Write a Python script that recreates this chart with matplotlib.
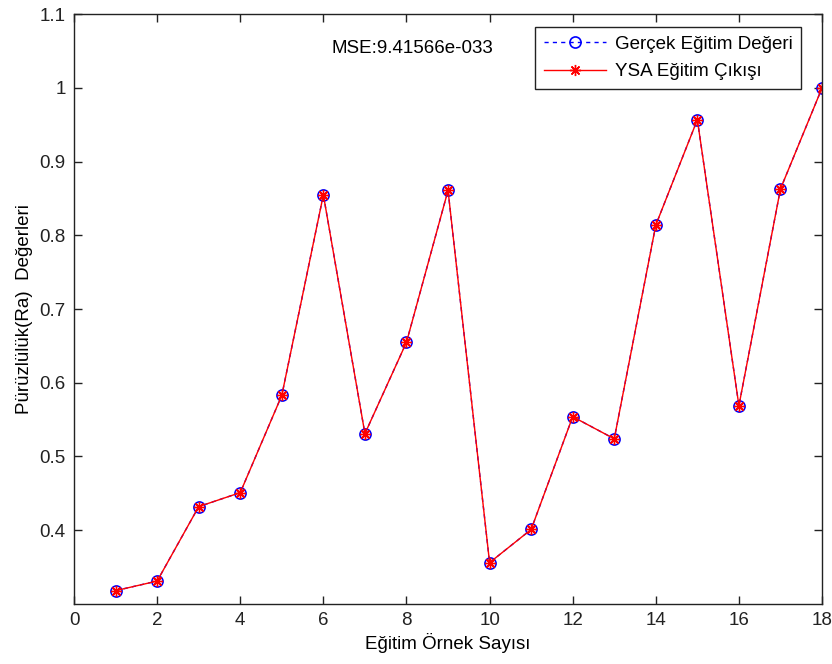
import matplotlib
matplotlib.use("Agg")
from matplotlib import pyplot as plt
import numpy as np

plt.rcParams['font.family'] = ['Liberation Sans', 'DejaVu Sans']

# veriler
ornek = np.arange(1, 19)
gercek = [0.318, 0.331, 0.432, 0.451, 0.583, 0.855, 0.531, 0.655, 0.861,
          0.356, 0.401, 0.554, 0.524, 0.814, 0.957, 0.569, 0.863, 1.0]
ysa = list(gercek)
xticks = [0, 2, 4, 6, 8, 10, 12, 14, 16, 18]
yticks = [0.4, 0.5, 0.6, 0.7, 0.8, 0.9, 1.0, 1.1]
ytick_labels = ['0.4', '0.5', '0.6', '0.7', '0.8', '0.9', '1', '1.1']
mse_text = 'MSE:9.41566e-033'

fs = 13.5
fig = plt.figure(figsize=(8.32, 6.64), dpi=100)
ax = fig.add_axes([0.089, 0.0905, 0.899, 0.888])

ax.plot(ornek, gercek, '--o', color='blue', mfc='none', mec='blue',
        ms=8, mew=1.2, lw=1, dashes=(3, 3), label='Gerçek Eğitim Değeri')
ax.plot(ornek, ysa, '-', marker=(8, 2, 0), color='red', ms=8, mew=1,
        lw=1, label='YSA Eğitim Çıkışı')

ax.set_xlim(0, 18)
ax.set_ylim(0.3, 1.1)
ax.set_xticks(xticks)
ax.set_yticks(yticks)
ax.set_yticklabels(ytick_labels)
ax.tick_params(direction='in', top=True, right=True, labelsize=fs,
               length=6, width=1, colors='#222222', pad=6)
for s in ax.spines.values():
    s.set_color('#222222')
    s.set_linewidth(1)

ax.set_xlabel('Eğitim Örnek Sayısı', fontsize=fs, labelpad=3)
ax.set_ylabel('Pürüzlülük(Ra)  Değerleri', fontsize=fs, labelpad=5)

ax.text(8.13, 1.054, mse_text, ha='center', va='center', fontsize=fs)

leg = ax.legend(loc='upper right', bbox_to_anchor=(0.972, 0.978),
                fontsize=fs, fancybox=False, framealpha=1,
                edgecolor='#222222', borderaxespad=0,
                handlelength=3.3, borderpad=0.45, labelspacing=0.55,
                handletextpad=0.5)
leg.get_frame().set_linewidth(1)

plt.savefig('out.png', dpi=100)
